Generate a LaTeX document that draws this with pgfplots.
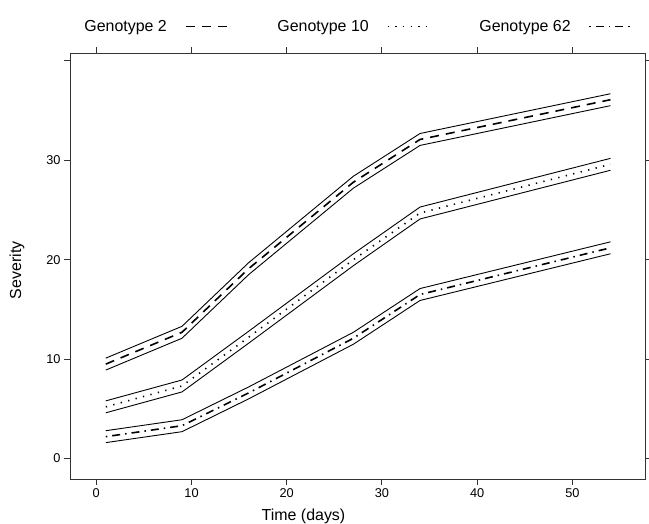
\documentclass[border=0pt]{standalone}
\usepackage{fontspec}
\setmainfont{Liberation Sans}
\usepackage{pgfplots}
\pgfplotsset{compat=1.18}
\begin{document}
\begin{tikzpicture}[x=1bp,y=1bp]
\path[use as bounding box] (0,0) rectangle (649,524);
\begin{axis}[
  at={(70bp,45bp)}, anchor=south west,
  scale only axis, width=575.7bp, height=426bp,
  xmin=-2.76, xmax=57.7, ymin=-2.06, ymax=40.8,
  xtick={0,10,20,30,40,50},
  ytick={0,10,20,30,40},
  yticklabels={0,10,20,30,{}},
  tick align=outside, tick pos=both,
  xticklabel pos=bottom, yticklabel pos=left,
  major tick length=6bp,
  axis line style={black!80, line width=0.9bp},
  every tick/.style={black!80, line width=0.9bp},
  /pgf/number format/assume math mode=true,
  ticklabel style={font=\fontsize{12.8}{14}\selectfont},
  xlabel={Time (days)}, ylabel={Severity},
  label style={font=\fontsize{16}{18}\selectfont},
  xlabel style={at={(axis description cs:0.4056,0)}, anchor=center, yshift=-37bp},
  ylabel style={at={(axis description cs:-0.092,0.49)}, anchor=center},
  clip=false,
  legend plot pos=right,
  legend columns=3,
  legend image code/.code={\draw[#1] (0bp,0bp) -- (41bp,0bp);},
  legend style={draw=none, fill=none, inner sep=0pt, at={(0.5,1)}, anchor=south, yshift=20bp,
    font=\fontsize{16}{18}\selectfont, nodes={inner sep=0pt},
    /tikz/every odd column/.append style={column sep=18bp},
    /tikz/every even column/.append style={column sep=50bp}},
]
% Genotype 2
\addplot[black, line width=0.9bp, forget plot] coordinates {(1,10.1) (9,13.3) (16,19.7) (27,28.4) (34,32.7) (54,36.7)};
\addplot[black, line width=0.9bp, forget plot] coordinates {(1,8.9) (9,12.1) (16,18.5) (27,27.2) (34,31.5) (54,35.5)};
\addplot[black, line width=1.6bp, dash pattern=on 9bp off 7bp] coordinates {(1,9.5) (9,12.7) (16,19.1) (27,27.8) (34,32.1) (54,36.1)};
\addlegendentry{Genotype 2}
% Genotype 10
\addplot[black, line width=0.9bp, forget plot] coordinates {(1,5.8) (9,7.9) (16,12.8) (27,20.6) (34,25.3) (54,30.2)};
\addplot[black, line width=0.9bp, forget plot] coordinates {(1,4.6) (9,6.7) (16,11.6) (27,19.4) (34,24.1) (54,29.0)};
\addplot[black, line width=1.6bp, dash pattern=on 1.3bp off 6.4bp] coordinates {(1,5.2) (9,7.3) (16,12.2) (27,20.0) (34,24.7) (54,29.6)};
\addlegendentry{Genotype 10}
% Genotype 62
\addplot[black, line width=0.9bp, forget plot] coordinates {(1,2.8) (9,3.9) (16,7.2) (27,12.7) (34,17.1) (54,21.8)};
\addplot[black, line width=0.9bp, forget plot] coordinates {(1,1.6) (9,2.7) (16,6.0) (27,11.5) (34,15.9) (54,20.6)};
\addplot[black, line width=1.6bp, dash pattern=on 1.5bp off 5bp on 8bp off 5bp] coordinates {(1,2.2) (9,3.3) (16,6.6) (27,12.1) (34,16.5) (54,21.2)};
\addlegendentry{Genotype 62}
\end{axis}
\end{tikzpicture}
\end{document}
